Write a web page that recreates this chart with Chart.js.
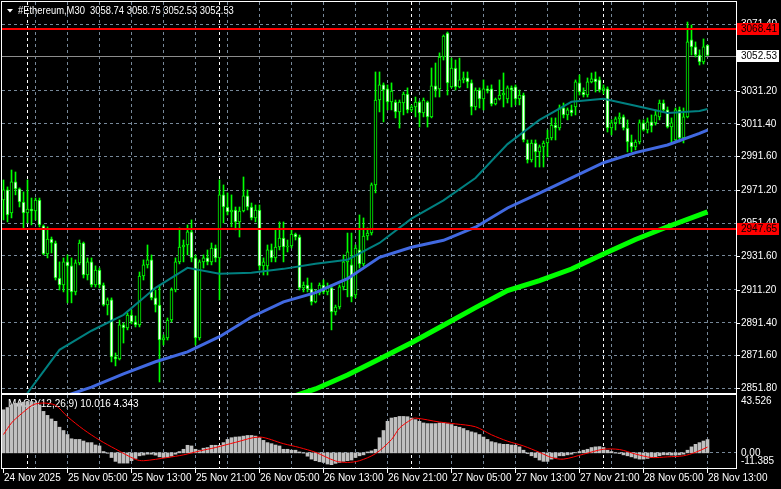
<!DOCTYPE html>
<html>
<head>
<meta charset="utf-8">
<script src="https://cdn.jsdelivr.net/npm/chart.js@4.4.1/dist/chart.umd.min.js"></script>
<style>
  html, body { margin: 0; padding: 0; background: #000; overflow: hidden; }
  #wrap { position: relative; width: 781px; height: 489px; }
  #priceChart { position: absolute; left: 0; top: 0; }
  #macdChart { position: absolute; left: 0; top: 394px; }
</style>
</head>
<body>
<div id="wrap">
  <canvas id="priceChart" width="781" height="394"></canvas>
  <canvas id="macdChart" width="781" height="95"></canvas>
</div>
<script>
// ---- data (M30 bars, 24 Nov 21:00 .. 28 Nov 13:00) ----
const symbol = '#Ethereum';
const timeframe = 'M30';

const open = [
  2965.3,2971.4,2957.5,2976.2,2972.0,2964.1,2957.5,2959.9,2958.7,2965.3,
  2949.7,2932.8,2941.8,2939.4,2918.3,2914.1,2928.0,2925.6,2909.9,2927.4,
  2939.4,2920.1,2928.0,2914.1,2923.1,2914.1,2902.0,2905.1,2870.7,2869.5,
  2890.0,2888.2,2896.0,2891.8,2890.0,2919.5,2926.2,2929.2,2906.3,2902.0,
  2880.9,2882.2,2893.0,2911.1,2928.0,2937.0,2938.2,2946.1,2930.4,2882.2,
  2928.0,2930.4,2928.0,2936.4,2930.4,2968.4,2961.1,2958.1,2959.3,2952.1,
  2958.7,2967.8,2961.1,2954.5,2959.3,2925.6,2925.6,2935.2,2930.4,2937.0,
  2942.4,2937.0,2937.6,2944.8,2943.0,2912.3,2914.1,2911.7,2903.9,2909.3,
  2914.1,2909.9,2912.3,2897.8,2900.8,2912.9,2928.0,2926.2,2908.1,2935.2,
  2926.8,2943.6,2945.4,2974.4,3025.6,3034.7,3032.3,3024.4,3024.4,3018.4,
  3023.8,3029.2,3019.6,3021.4,3024.4,3017.8,3024.4,3015.4,3034.1,3032.3,
  3051.5,3066.0,3033.5,3044.9,3033.5,3037.7,3038.9,3035.9,3021.4,3031.6,
  3026.2,3032.3,3032.3,3023.2,3026.2,3028.6,3026.2,3032.9,3033.5,3026.2,
  3028.6,2999.7,2989.5,2999.7,2994.3,2997.3,2999.7,3002.7,3010.5,3008.7,
  3020.8,3016.6,3019.6,3021.4,3035.9,3030.4,3028.6,3036.5,3038.3,3037.7,
  3031.6,3032.3,3008.7,3011.8,3014.2,3015.4,3008.7,3000.3,2997.3,3000.3,
  3011.8,3007.5,3012.4,3011.8,3015.4,3023.8,3019.6,3009.3,3001.5,3019.6,
  3002.7,3015.4,3061.8,3057.6,3052.7,3048.5,3058.74
];
const high = [
  2977.4,2973.2,2983.4,2982.2,2972.6,2970.2,2977.4,2966.5,2966.5,2966.5,
  2950.3,2949.1,2943.0,2940.6,2928.0,2930.4,2932.2,2930.4,2929.2,2941.2,
  2940.0,2930.4,2930.4,2925.6,2924.3,2915.3,2906.3,2906.3,2873.1,2893.0,
  2891.2,2897.2,2899.0,2895.4,2921.9,2929.2,2938.2,2932.2,2911.1,2914.1,
  2884.0,2894.2,2912.3,2930.4,2948.5,2941.2,2950.3,2953.3,2932.2,2929.2,
  2932.2,2935.2,2939.4,2938.2,2977.4,2974.4,2969.6,2968.4,2961.1,2961.1,
  2979.2,2971.4,2963.5,2962.3,2962.3,2930.4,2938.2,2938.8,2947.3,2952.1,
  2952.1,2941.2,2947.3,2945.4,2944.2,2915.9,2918.3,2915.3,2911.1,2915.3,
  2917.1,2915.3,2914.1,2902.0,2914.1,2932.2,2945.4,2945.4,2938.2,2956.3,
  2954.5,2948.5,2975.6,3042.5,3042.5,3035.9,3034.7,3035.9,3025.6,3025.6,
  3030.4,3032.9,3022.6,3027.4,3025.0,3026.8,3025.0,3044.9,3047.9,3054.0,
  3064.8,3066.6,3050.9,3049.7,3050.9,3042.5,3042.5,3037.7,3032.9,3032.9,
  3037.7,3034.1,3034.7,3026.8,3037.7,3041.9,3034.1,3034.1,3034.7,3031.6,
  3029.8,3001.5,3001.5,3001.5,2998.5,3000.9,3007.5,3014.8,3014.8,3022.6,
  3023.8,3020.8,3022.6,3037.7,3040.7,3032.9,3038.9,3041.9,3042.5,3039.5,
  3034.7,3033.5,3013.6,3015.4,3017.8,3016.6,3013.6,3004.5,3001.5,3013.6,
  3013.6,3014.8,3016.6,3019.6,3025.6,3025.6,3021.4,3014.8,3020.8,3021.4,
  3020.8,3072.6,3070.8,3060.6,3055.8,3062.4,3058.75
];
const low = [
  2953.3,2952.1,2954.5,2968.4,2961.1,2948.5,2951.5,2950.3,2953.3,2949.1,
  2932.2,2930.4,2933.4,2917.1,2911.1,2909.9,2903.3,2903.3,2908.1,2926.2,
  2918.3,2917.1,2912.9,2912.9,2912.3,2901.4,2896.0,2867.7,2865.3,2868.9,
  2879.1,2887.0,2890.6,2888.8,2888.8,2917.1,2924.3,2905.1,2897.8,2855.6,
  2877.9,2880.9,2891.8,2909.9,2926.8,2928.0,2932.2,2928.0,2877.9,2880.9,
  2924.3,2926.2,2926.2,2928.0,2905.1,2951.5,2956.3,2949.1,2947.3,2943.0,
  2958.1,2959.3,2953.3,2952.1,2923.1,2920.1,2920.1,2928.0,2928.0,2935.2,
  2928.0,2934.0,2936.4,2941.2,2911.1,2909.9,2909.9,2902.0,2903.3,2908.1,
  2908.7,2908.1,2887.0,2896.0,2899.6,2911.1,2906.9,2903.9,2906.3,2924.3,
  2925.6,2941.2,2944.2,2969.6,3018.4,3012.4,3019.6,3019.6,3014.8,3008.7,
  3016.6,3017.8,3018.4,3015.4,3009.3,3015.4,3009.3,3014.8,3027.4,3027.4,
  3049.7,3028.6,3032.9,3031.6,3032.9,3035.9,3032.9,3016.6,3019.6,3020.8,
  3019.6,3029.8,3022.0,3022.6,3025.6,3021.4,3023.8,3021.4,3022.6,3022.6,
  3000.3,2987.6,2988.2,2985.2,2985.2,2985.2,2991.3,3001.5,3001.5,3007.5,
  3014.8,3013.6,3016.0,3016.6,3028.6,3027.4,3027.4,3035.9,3030.4,3030.4,
  3029.2,3006.3,3004.5,3007.5,3011.2,3007.5,2994.3,2994.3,2995.5,2999.1,
  3006.9,3005.7,3006.3,3010.5,3013.6,3018.4,3008.7,2999.7,3000.3,3000.3,
  2999.7,3014.8,3052.7,3051.5,3046.7,3047.3,3052.53
];
const close = [
  2971.4,2956.3,2976.2,2972.0,2964.1,2957.5,2959.9,2958.7,2965.3,2950.3,
  2932.8,2941.8,2939.4,2918.3,2914.1,2928.0,2925.6,2909.9,2927.4,2939.4,
  2920.1,2928.0,2914.1,2923.1,2914.1,2902.0,2905.1,2870.7,2869.5,2890.0,
  2888.2,2896.0,2891.8,2890.0,2919.5,2926.2,2929.2,2906.3,2902.0,2880.9,
  2882.2,2893.0,2911.1,2928.0,2937.0,2938.2,2946.1,2930.4,2882.2,2928.0,
  2930.4,2928.0,2936.4,2930.4,2968.4,2961.1,2958.1,2959.3,2952.1,2958.7,
  2967.8,2961.1,2954.5,2959.3,2925.6,2928.0,2935.2,2930.4,2937.0,2942.4,
  2937.0,2937.6,2944.8,2943.0,2912.3,2914.1,2911.7,2903.9,2909.3,2914.1,
  2909.9,2912.3,2897.8,2900.8,2912.9,2928.0,2934.0,2906.9,2936.4,2926.8,
  2943.6,2945.4,2974.4,3025.6,3034.7,3031.6,3024.4,3031.0,3018.4,3024.4,
  3029.2,3019.6,3021.4,3024.4,3017.8,3025.6,3015.4,3034.1,3031.6,3051.5,
  3064.2,3035.9,3044.9,3033.5,3037.7,3038.9,3036.5,3021.4,3031.6,3026.2,
  3032.3,3031.0,3023.2,3026.2,3028.6,3029.8,3032.9,3031.6,3026.2,3028.6,
  3001.5,2989.5,2999.7,2994.3,2997.3,2999.7,3002.7,3010.5,3008.7,3020.8,
  3016.6,3019.6,3017.8,3036.5,3030.4,3028.6,3036.5,3038.3,3036.5,3031.6,
  3032.9,3008.7,3011.8,3014.2,3015.4,3008.7,3000.3,2997.3,3000.3,3011.8,
  3007.5,3012.4,3009.9,3016.6,3023.8,3019.6,3009.3,3011.8,3019.6,3002.7,
  3015.4,3060.6,3057.6,3052.7,3048.5,3057.6,3052.53
];

// moving averages, read at every 8th bar
const fastMaBars = [2,6,14,22,30,38,46,54,62,70,78,86,94,102,110,118,126,134,142,150,158,166,174,176];
const fastMa = [2833.0,2849.0,2875.0,2886.5,2896.1,2912.4,2924.4,2920.8,2921.4,2923.8,2926.9,2929.3,
                2939.4,2954.1,2965.1,2978.6,2999.0,3013.6,3024.5,3026.3,3022.1,3017.8,3019.0,3020.2];
const midMaBars = [14,22,30,38,46,54,62,70,78,86,94,102,110,118,126,134,142,150,158,166,174,176];
const midMa = [2846.0,2852.5,2860.5,2867.8,2873.8,2882.9,2894.8,2903.9,2909.5,2917.9,2930.8,
               2936.8,2941.0,2948.9,2960.5,2969.4,2978.7,2987.8,2993.9,2998.5,3005.5,3007.5];
const slowMaBars = [70,78,86,94,102,110,118,126,134,142,150,158,166,174,176];
const slowMa = [2845.0,2851.4,2859.8,2869.5,2879.3,2889.8,2900.4,2910.7,2916.7,2923.7,
                2932.8,2941.5,2949.2,2956.3,2958.1];

// MACD(12,26,9): main line as histogram, signal line read at sample bars
const macd = [
  32.4,34.1,36.1,37.3,37.8,38.1,38.6,38.6,37.8,36.1,
  31.2,28.2,25.5,23.7,19.3,16.8,13.8,10.6,10.1,10.1,
  8.9,7.7,7.7,5.9,5.2,1.0,-0.3,-3.5,-6.4,-7.7,
  -7.7,-7.7,-5.9,-4.2,-2.2,-1.7,-1.0,-1.0,-1.7,-3.0,
  -3.5,-3.5,-2.5,-1.0,1.0,2.7,5.7,5.2,2.7,2.0,
  3.5,4.0,5.7,5.7,5.7,7.7,10.1,11.4,11.9,12.1,
  12.6,13.1,13.1,12.6,11.4,9.4,7.7,6.9,5.9,5.2,
  2.7,2.7,2.0,2.0,0.7,-0.2,-2.5,-4.7,-5.9,-6.7,
  -7.2,-8.4,-8.9,-7.9,-7.2,-6.4,-5.9,-5.4,-3.5,-2.2,
  -1.5,0.7,1.5,2.7,11.4,16.8,23.7,26.2,26.7,27.4,
  27.4,27.2,26.2,25.0,23.7,22.5,22.0,22.0,22.0,22.5,
  22.5,22.0,21.3,20.0,19.3,18.3,16.8,15.8,15.1,13.8,
  11.9,10.1,8.4,7.7,6.9,6.4,6.4,5.9,5.7,4.5,
  2.0,-0.5,-2.2,-3.5,-5.4,-6.4,-6.4,-4.7,-3.5,-2.2,
  -2.2,-1.5,-1.0,0.2,1.0,2.0,2.7,4.0,4.5,4.7,
  4.0,2.0,1.0,-0.2,-0.5,-1.5,-2.2,-3.0,-4.0,-4.7,
  -4.7,-4.2,-3.5,-3.0,-2.2,-1.5,-1.5,-1.7,-1.7,-1.5,
  -1.0,2.0,4.5,6.4,7.7,8.9,10.016
];
const signalBars = [0,2,4,7,8,10,13,16,20,24,28,33,35,41,45,49,53,58,64,70,74,78,83,86,89,93,97,99,102,103,
                    109,113,118,122,126,130,134,137,140,145,150,154,158,162,166,170,173,176];
const signal = [13.8,22.5,28.2,35.5,36.8,37.5,35.8,27.2,17.6,9.6,2.9,-4.9,-5.9,-3.5,-1.5,1.4,4.0,7.9,11.9,6.9,
                4.0,0.4,-6.1,-7.2,-5.9,-0.6,10.0,18.6,25.2,26.2,23.2,21.8,19.6,13.6,8.8,5.2,0.4,-3.5,-4.7,-1.0,
                2.7,2.5,-0.9,-3.5,-3.0,-2.2,0.4,4.343];

// axes
const priceTicks = [3071.40,3051.60,3031.20,3011.40,2991.60,2971.20,2951.40,2931.60,2911.20,2891.40,2871.60,2851.80];
const priceMin = 2848.97, priceMax = 3084.67;
const macdMin = -11.385, macdMax = 43.526;
const timeBars = [0,16,32,48,64,80,96,112,128,144,160,176];
const timeLabels = ['24 Nov 2025','25 Nov 05:00','25 Nov 13:00','25 Nov 21:00','26 Nov 05:00','26 Nov 13:00',
                    '26 Nov 21:00','27 Nov 05:00','27 Nov 13:00','27 Nov 21:00','28 Nov 05:00','28 Nov 13:00'];
const gridBars = [8,16,24,32,40,48,56,64,72,80,88,96,104,112,120,128,136,144,152,160,168,176];
const dayBars = [6,54,102,150];
const levelLines = [3068.41, 2947.65];
const lastPrice = close[close.length - 1];

const FONT = '10px "Liberation Sans", Arial, sans-serif';
const GRID = '#778899';
const LIME = '#00ff00';

const bars = open.map((v, i) => i);

function hLine(ctx, x1, x2, y) { ctx.beginPath(); ctx.moveTo(x1, y); ctx.lineTo(x2, y); ctx.stroke(); }
function vLine(ctx, x, y1, y2) { ctx.beginPath(); ctx.moveTo(x, y1); ctx.lineTo(x, y2); ctx.stroke(); }
function crisp(v) { return Math.round(v - 0.5) + 0.5; }

function drawVerticalGrid(ctx, a, x) {
  ctx.setLineDash([3, 3]);
  ctx.strokeStyle = GRID;
  gridBars.forEach(b => vLine(ctx, crisp(x.getPixelForValue(b)), a.top, a.bottom));
  ctx.strokeStyle = '#ffffff';
  dayBars.forEach(b => vLine(ctx, crisp(x.getPixelForValue(b)), a.top, a.bottom));
  ctx.setLineDash([]);
}

const priceDecor = {
  id: 'priceDecor',
  beforeDatasetsDraw(chart) {
    const { ctx, chartArea: a, scales: { x, y } } = chart;
    ctx.save();
    ctx.lineWidth = 1;
    ctx.setLineDash([3, 3]);
    ctx.strokeStyle = GRID;
    priceTicks.forEach(v => hLine(ctx, a.left, a.right, crisp(y.getPixelForValue(v))));
    drawVerticalGrid(ctx, a, x);
    // last price line
    ctx.strokeStyle = '#8c8c8c';
    hLine(ctx, a.left, a.right, crisp(y.getPixelForValue(lastPrice)) + 1);
    ctx.restore();
  },
  afterDatasetsDraw(chart) {
    const { ctx, chartArea: a, scales: { y } } = chart;
    ctx.save();
    ctx.fillStyle = '#ff0000';
    levelLines.forEach(v => {
      const py = Math.round(y.getPixelForValue(v));
      ctx.fillRect(a.left, py - 1, a.right - a.left, 2);
    });
    ctx.restore();
  },
  afterDraw(chart) {
    const { ctx, chartArea: a, scales: { y } } = chart;
    ctx.save();
    // frame
    ctx.strokeStyle = '#ffffff';
    ctx.lineWidth = 1;
    ctx.strokeRect(a.left - 0.5, a.top - 0.5, a.right - a.left + 1, a.bottom - a.top + 1);
    // price scale
    ctx.font = FONT;
    ctx.textBaseline = 'middle';
    ctx.textAlign = 'left';
    priceTicks.forEach(v => {
      const py = Math.round(y.getPixelForValue(v));
      ctx.fillStyle = '#ffffff';
      ctx.fillRect(a.right + 1, py, 3, 1);
      ctx.fillText(v.toFixed(2), a.right + 5, py + 0.5);
    });
    // level labels
    levelLines.forEach(v => {
      const py = Math.round(y.getPixelForValue(v));
      ctx.fillStyle = '#ff0000';
      ctx.fillRect(a.right + 1, py - 6, 42, 12);
      ctx.fillStyle = '#000000';
      ctx.fillText(v.toFixed(2), a.right + 5, py + 0.5);
    });
    const lp = Math.round(y.getPixelForValue(lastPrice)) + 1;
    ctx.fillStyle = '#ffffff';
    ctx.fillRect(a.right + 1, lp - 6, 42, 12);
    ctx.fillStyle = '#000000';
    ctx.fillText(lastPrice.toFixed(2), a.right + 5, lp + 0.5);
    // title
    const n = close.length - 1;
    ctx.fillStyle = '#ffffff';
    ctx.beginPath();
    ctx.moveTo(7, 9); ctx.lineTo(13, 9); ctx.lineTo(10, 12.5); ctx.closePath(); ctx.fill();
    const title = symbol + ',' + timeframe + '  ' +
      [open[n], high[n], low[n], close[n]].map(v => v.toFixed(2)).join(' ');
    ctx.translate(18, 11);
    ctx.scale(0.94, 1);
    ctx.fillText(title, 0, 0);
    ctx.restore();
  }
};

const macdDecor = {
  id: 'macdDecor',
  beforeDatasetsDraw(chart) {
    const { ctx, chartArea: a, scales: { x, y } } = chart;
    ctx.save();
    ctx.lineWidth = 1;
    drawVerticalGrid(ctx, a, x);
    ctx.setLineDash([3, 3]);
    ctx.strokeStyle = GRID;
    hLine(ctx, a.left, a.right, crisp(y.getPixelForValue(0)));
    ctx.setLineDash([]);
    ctx.font = FONT;
    ctx.textBaseline = 'middle';
    ctx.fillStyle = '#ffffff';
    const n = macd.length - 1;
    ctx.fillText('MACD(12,26,9) ' + macd[n].toFixed(3) + ' ' + signal[signal.length - 1].toFixed(3), 8, a.top + 9);
    ctx.restore();
  },
  afterDraw(chart) {
    const { ctx, chartArea: a, scales: { x, y } } = chart;
    ctx.save();
    ctx.strokeStyle = '#ffffff';
    ctx.lineWidth = 1;
    ctx.strokeRect(a.left - 0.5, a.top - 0.5, a.right - a.left + 1, a.bottom - a.top + 1);
    ctx.font = FONT;
    ctx.textBaseline = 'middle';
    ctx.textAlign = 'left';
    ctx.fillStyle = '#ffffff';
    ctx.fillText(macdMax.toFixed(3), a.right + 5, y.getPixelForValue(macdMax) + 6);
    ctx.fillText('0.00', a.right + 5, Math.round(y.getPixelForValue(0)) + 0.5);
    ctx.fillText(macdMin.toFixed(3), a.right + 5, y.getPixelForValue(macdMin) - 7);
    // time scale
    timeBars.forEach((b, k) => {
      const px = Math.round(x.getPixelForValue(b) - 0.5);
      ctx.fillRect(px, a.bottom + 1, 1, 4);
      ctx.fillText(timeLabels[k], px + 1, a.bottom + 10);
    });
    ctx.restore();
  }
};

const xScale = {
  type: 'linear', min: -0.375, max: 183.125, offset: false, display: false
};

new Chart(document.getElementById('priceChart'), {
  type: 'bar',
  data: {
    datasets: [
      {
        label: 'wick', order: 4, grouped: false, barThickness: 1,
        backgroundColor: LIME,
        data: bars.map(i => ({ x: i, y: [low[i], high[i]] }))
      },
      {
        label: 'body', order: 3, grouped: false, barThickness: 3,
        borderColor: LIME, borderWidth: 1, borderSkipped: false,
        backgroundColor: bars.map(i => close[i] < open[i] ? '#ffffff' : '#000000'),
        data: bars.map(i => ({ x: i, y: [open[i], close[i]] }))
      },
      {
        type: 'line', label: 'MA slow', order: 1, borderColor: LIME, borderWidth: 5,
        pointRadius: 0, tension: 0,
        data: slowMaBars.map((b, k) => ({ x: b, y: slowMa[k] }))
      },
      {
        type: 'line', label: 'MA mid', order: 1, borderColor: '#4169e1', borderWidth: 3,
        pointRadius: 0, tension: 0,
        data: midMaBars.map((b, k) => ({ x: b, y: midMa[k] }))
      },
      {
        type: 'line', label: 'MA fast', order: 1, borderColor: '#008080', borderWidth: 2,
        pointRadius: 0, tension: 0,
        data: fastMaBars.map((b, k) => ({ x: b, y: fastMa[k] }))
      }
    ]
  },
  options: {
    responsive: false, animation: false, devicePixelRatio: 1,
    layout: { padding: { left: 2, top: 2, right: 45, bottom: 1 } },
    plugins: { legend: { display: false }, tooltip: { enabled: false } },
    scales: {
      x: xScale,
      y: { type: 'linear', min: priceMin, max: priceMax, display: false }
    }
  },
  plugins: [priceDecor]
});

new Chart(document.getElementById('macdChart'), {
  type: 'bar',
  data: {
    datasets: [
      {
        label: 'MACD', order: 2, grouped: false, barThickness: 3,
        backgroundColor: '#c0c0c0',
        data: bars.map(i => ({ x: i, y: macd[i] }))
      },
      {
        type: 'line', label: 'Signal', order: 1, borderColor: '#ff0000', borderWidth: 1,
        pointRadius: 0, tension: 0.3,
        data: signalBars.map((b, k) => ({ x: b, y: signal[k] }))
      }
    ]
  },
  options: {
    responsive: false, animation: false, devicePixelRatio: 1,
    layout: { padding: { left: 2, top: 1, right: 45, bottom: 21 } },
    plugins: { legend: { display: false }, tooltip: { enabled: false } },
    scales: {
      x: xScale,
      y: { type: 'linear', min: macdMin, max: macdMax, display: false }
    }
  },
  plugins: [macdDecor]
});
</script>
</body>
</html>
